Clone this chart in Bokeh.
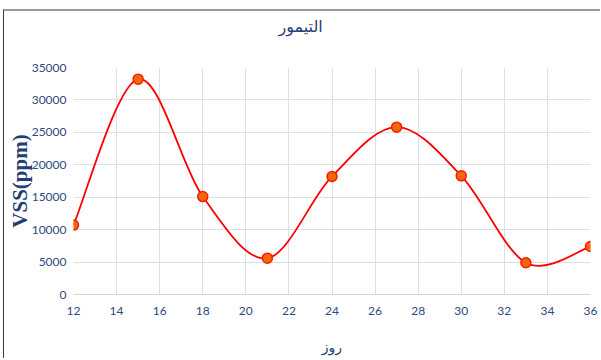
from bokeh.plotting import figure
from bokeh.models import Title, FixedTicker, Range1d, InlineStyleSheet
from bokeh.embed import file_html
from bokeh.resources import INLINE

# data
days = [12, 15, 18, 21, 24, 27, 30, 33, 36]
vss = [10700, 33200, 15100, 5600, 18200, 25800, 18300, 4900, 7400]
x_ticks = list(range(12, 37, 2))
y_ticks = list(range(0, 35001, 5000))
title_text = "التیمور"
x_label = "روز"
y_label = "VSS(ppm)"

NAVY = "#233E72"
TICKC = "#2E4A7D"
GRID = "#DCDFE4"

p = figure(width=597, height=349, output_backend="svg",
           toolbar_location=None, x_range=Range1d(12, 36), y_range=Range1d(0, 35000))
p.min_border_left = 68
p.min_border_right = 11
p.min_border_top = 56
p.min_border_bottom = 66
p.outline_line_color = None
p.background_fill_color = "white"
p.border_fill_color = "white"
p.stylesheets = [InlineStyleSheet(css=":host { margin-left: 3px; margin-top: 9px; "
                                      "border-left: 1px solid #3a3a3a; "
                                      "border-top: 2px solid #9a9a9a; }")]

spacer = Title(text=" ", text_font_size="27px", standoff=0)
p.add_layout(spacer, "above")
t = Title(text=title_text, align="left", text_font="DejaVu Sans", offset=205,
          text_font_size="16px", text_font_style="normal", text_color=NAVY, standoff=0)
p.add_layout(t, "above")

# smoothed curve (Catmull-Rom style, as in spreadsheet smoothing) via bezier glyphs
n = len(days)
x0, y0, x1, y1, cx0, cy0, cx1, cy1 = [], [], [], [], [], [], [], []
for i in range(n - 1):
    a = max(i - 1, 0)
    d = min(i + 2, n - 1)
    x0.append(days[i]); y0.append(vss[i])
    x1.append(days[i + 1]); y1.append(vss[i + 1])
    cx0.append(days[i] + (days[i + 1] - days[a]) / 6)
    cy0.append(vss[i] + (vss[i + 1] - vss[a]) / 6)
    cx1.append(days[i + 1] - (days[d] - days[i]) / 6)
    cy1.append(vss[i + 1] - (vss[d] - vss[i]) / 6)
p.bezier(x0=x0, y0=y0, x1=x1, y1=y1, cx0=cx0, cy0=cy0, cx1=cx1, cy1=cy1,
         line_color="#FF0000", line_width=1.8)
p.scatter(days, vss, size=10, fill_color="#EC6A0C", line_color="#FF1A00", line_width=1.5)

# axes
p.xaxis.ticker = FixedTicker(ticks=x_ticks)
p.yaxis.ticker = FixedTicker(ticks=y_ticks)
for ax in (p.xaxis[0], p.yaxis[0]):
    ax.major_tick_line_color = None
    ax.minor_tick_line_color = None
    ax.major_tick_out = 0
    ax.major_tick_in = 0
    ax.minor_tick_out = 0
    ax.major_label_text_font = "Lato"
    ax.major_label_text_font_size = "12px"
    ax.major_label_text_color = TICKC
p.xaxis.axis_line_color = "#D0D4DA"
p.yaxis.axis_line_color = None
p.xaxis.major_label_standoff = 12
p.yaxis.major_label_standoff = 7

p.xaxis.axis_label = x_label
p.xaxis.axis_label_text_font = "DejaVu Sans"
p.xaxis.axis_label_text_font_size = "14px"
p.xaxis.axis_label_text_font_style = "normal"
p.xaxis.axis_label_text_color = NAVY
p.xaxis.axis_label_standoff = 21

p.yaxis.axis_label = y_label
p.yaxis.axis_label_text_font = "Liberation Serif"
p.yaxis.axis_label_text_font_size = "21px"
p.yaxis.axis_label_text_font_style = "bold"
p.yaxis.axis_label_text_color = NAVY
p.yaxis.axis_label_standoff = -3

p.xgrid.grid_line_color = GRID
p.ygrid.grid_line_color = GRID

open("out.html", "w").write(file_html(p, INLINE))
